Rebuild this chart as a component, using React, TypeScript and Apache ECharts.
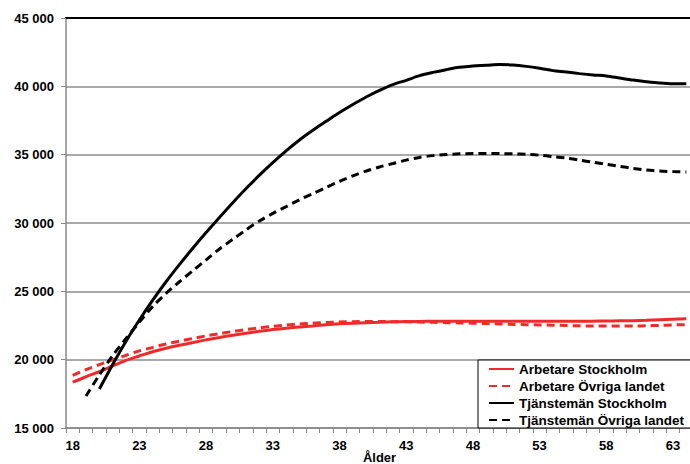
import React, { useEffect, useRef } from "react";
import * as echarts from "echarts";

const ages = [
  "18", "19", "20", "21", "22", "23", "24", "25", "26", "27", "28", "29", "30", "31", "32", "33",
  "34", "35", "36", "37", "38", "39", "40", "41", "42", "43", "44", "45", "46", "47", "48", "49",
  "50", "51", "52", "53", "54", "55", "56", "57", "58", "59", "60", "61", "62", "63", "64",
];

const yTickValues = [15000, 20000, 25000, 30000, 35000, 40000, 45000];
const yTickLabels = ["15 000", "20 000", "25 000", "30 000", "35 000", "40 000", "45 000"];

const seriesNames = [
  "Arbetare Stockholm",
  "Arbetare Övriga landet",
  "Tjänstemän Stockholm",
  "Tjänstemän Övriga landet",
];

const arbetareStockholm = [
  18350, 18750, 19120, 19540, 19950, 20270, 20580, 20830, 21050, 21250, 21450, 21620, 21790, 21940, 22080, 22200,
  22300, 22390, 22470, 22550, 22620, 22670, 22710, 22740, 22770, 22790, 22800, 22810, 22810, 22820, 22820, 22820,
  22820, 22820, 22820, 22820, 22820, 22820, 22820, 22820, 22830, 22840, 22850, 22880, 22920, 22960, 23000,
];

const arbetareOvriga = [
  18850, 19270, 19640, 19980, 20320, 20640, 20900, 21150, 21350, 21550, 21740, 21900, 22060, 22200, 22330, 22440,
  22530, 22610, 22670, 22720, 22760, 22780, 22790, 22790, 22780, 22770, 22750, 22730, 22710, 22690, 22670, 22640,
  22610, 22580, 22560, 22540, 22520, 22500, 22480, 22460, 22460, 22460, 22460, 22480, 22510, 22540, 22560,
];

const tjanstemanStockholm = [
  null, null, 17850, 19650, 21350, 22900, 24350, 25700, 26950, 28150, 29300, 30400, 31480, 32520, 33500, 34420,
  35280, 36070, 36780, 37440, 38080, 38670, 39220, 39700, 40120, 40440, 40780, 41020, 41220, 41390, 41490, 41540,
  41600, 41560, 41460, 41320, 41150, 41050, 40930, 40830, 40760, 40610, 40460, 40340, 40240, 40190, 40190,
];

const tjanstemanOvriga = [
  null, 17340, 18880, 20300, 21550, 22750, 23900, 24850, 25700, 26500, 27300, 28100, 28800, 29500, 30150, 30700,
  31200, 31700, 32150, 32600, 33050, 33450, 33800, 34100, 34350, 34600, 34800, 34930, 35010, 35060, 35080, 35090,
  35080, 35060, 35020, 34960, 34860, 34750, 34600, 34450, 34300, 34150, 34000, 33880, 33800, 33760, 33730,
];

const FONT = "'Liberation Sans', Arial, sans-serif";
const RED = "#f02a2a";
const BLACK = "#000000";

export default function App() {
  const ref = useRef<HTMLDivElement>(null);

  useEffect(() => {
    if (!ref.current) return;
    const chart = echarts.init(ref.current, null, { renderer: "svg" });

    const mk = (name: string, data: (number | null)[], color: string, dashed: boolean) => ({
      name,
      type: "line",
      data,
      smooth: 0.3,
      symbol: "none",
      showSymbol: false,
      lineStyle: { color, width: 3, type: dashed ? [8, 5] : "solid" },
      itemStyle: { color },
    });

    chart.setOption({
      animation: false,
      backgroundColor: "#ffffff",
      textStyle: { fontFamily: FONT },
      grid: {
        left: 66,
        top: 18,
        width: 627,
        height: 410,
        containLabel: false,
        outerBoundsMode: "none",
      },
      legend: {
        orient: "vertical",
        left: 478,
        top: 360,
        padding: [2, 16, 1, 10],
        itemGap: 3,
        itemWidth: 25,
        itemHeight: 14,
        borderColor: "#000",
        borderWidth: 1,
        backgroundColor: "#ffffff",
        data: seriesNames,
        itemStyle: { color: "rgba(0,0,0,0)", borderColor: "rgba(0,0,0,0)", borderWidth: 0 },
        textStyle: { fontFamily: FONT, fontWeight: "bold", fontSize: 13.5, color: "#000" },
      },
      xAxis: [
        {
          type: "category",
          data: ages,
          boundaryGap: true,
          name: "Ålder",
          nameLocation: "middle",
          nameGap: 23,
          nameMoveOverlap: false,
          nameTextStyle: { fontFamily: FONT, fontWeight: "bold", fontSize: 13, color: "#000" },
          axisLine: { lineStyle: { color: "#888", width: 1.5 } },
          axisTick: { show: true, interval: 0, length: 5, lineStyle: { color: "#888", width: 1 } },
          axisLabel: {
            interval: 4,
            margin: 11,
            fontFamily: FONT,
            fontWeight: "bold",
            fontSize: 13,
            color: "#000",
          },
          splitLine: { show: false },
        },
        {
          type: "category",
          data: ages,
          position: "top",
          axisLine: { show: true, lineStyle: { color: "#000", width: 2 } },
          axisTick: { show: false },
          axisLabel: { show: false },
          splitLine: { show: false },
        },
      ],
      yAxis: {
        type: "value",
        min: 15000,
        max: 45000,
        interval: 5000,
        axisLine: { show: true, lineStyle: { color: "#888", width: 1.5 } },
        axisTick: { show: true, length: 5, lineStyle: { color: "#888", width: 1 } },
        axisLabel: {
          margin: 12,
          fontFamily: FONT,
          fontWeight: "bold",
          fontSize: 13,
          color: "#000",
          formatter: (v: number) => {
            const i = yTickValues.indexOf(v);
            return i >= 0 ? yTickLabels[i] : String(v);
          },
        },
        splitLine: { show: true, lineStyle: { color: "#8c8c8c", width: 1.5 } },
      },
      series: [
        mk(seriesNames[0], arbetareStockholm, RED, false),
        mk(seriesNames[1], arbetareOvriga, RED, true),
        mk(seriesNames[2], tjanstemanStockholm, BLACK, false),
        mk(seriesNames[3], tjanstemanOvriga, BLACK, true),
      ],
    });

    return () => chart.dispose();
  }, []);

  return (
    <div
      ref={ref}
      style={{ position: "fixed", left: 0, top: 0, width: 690, height: 464, background: "#fff" }}
    />
  );
}
